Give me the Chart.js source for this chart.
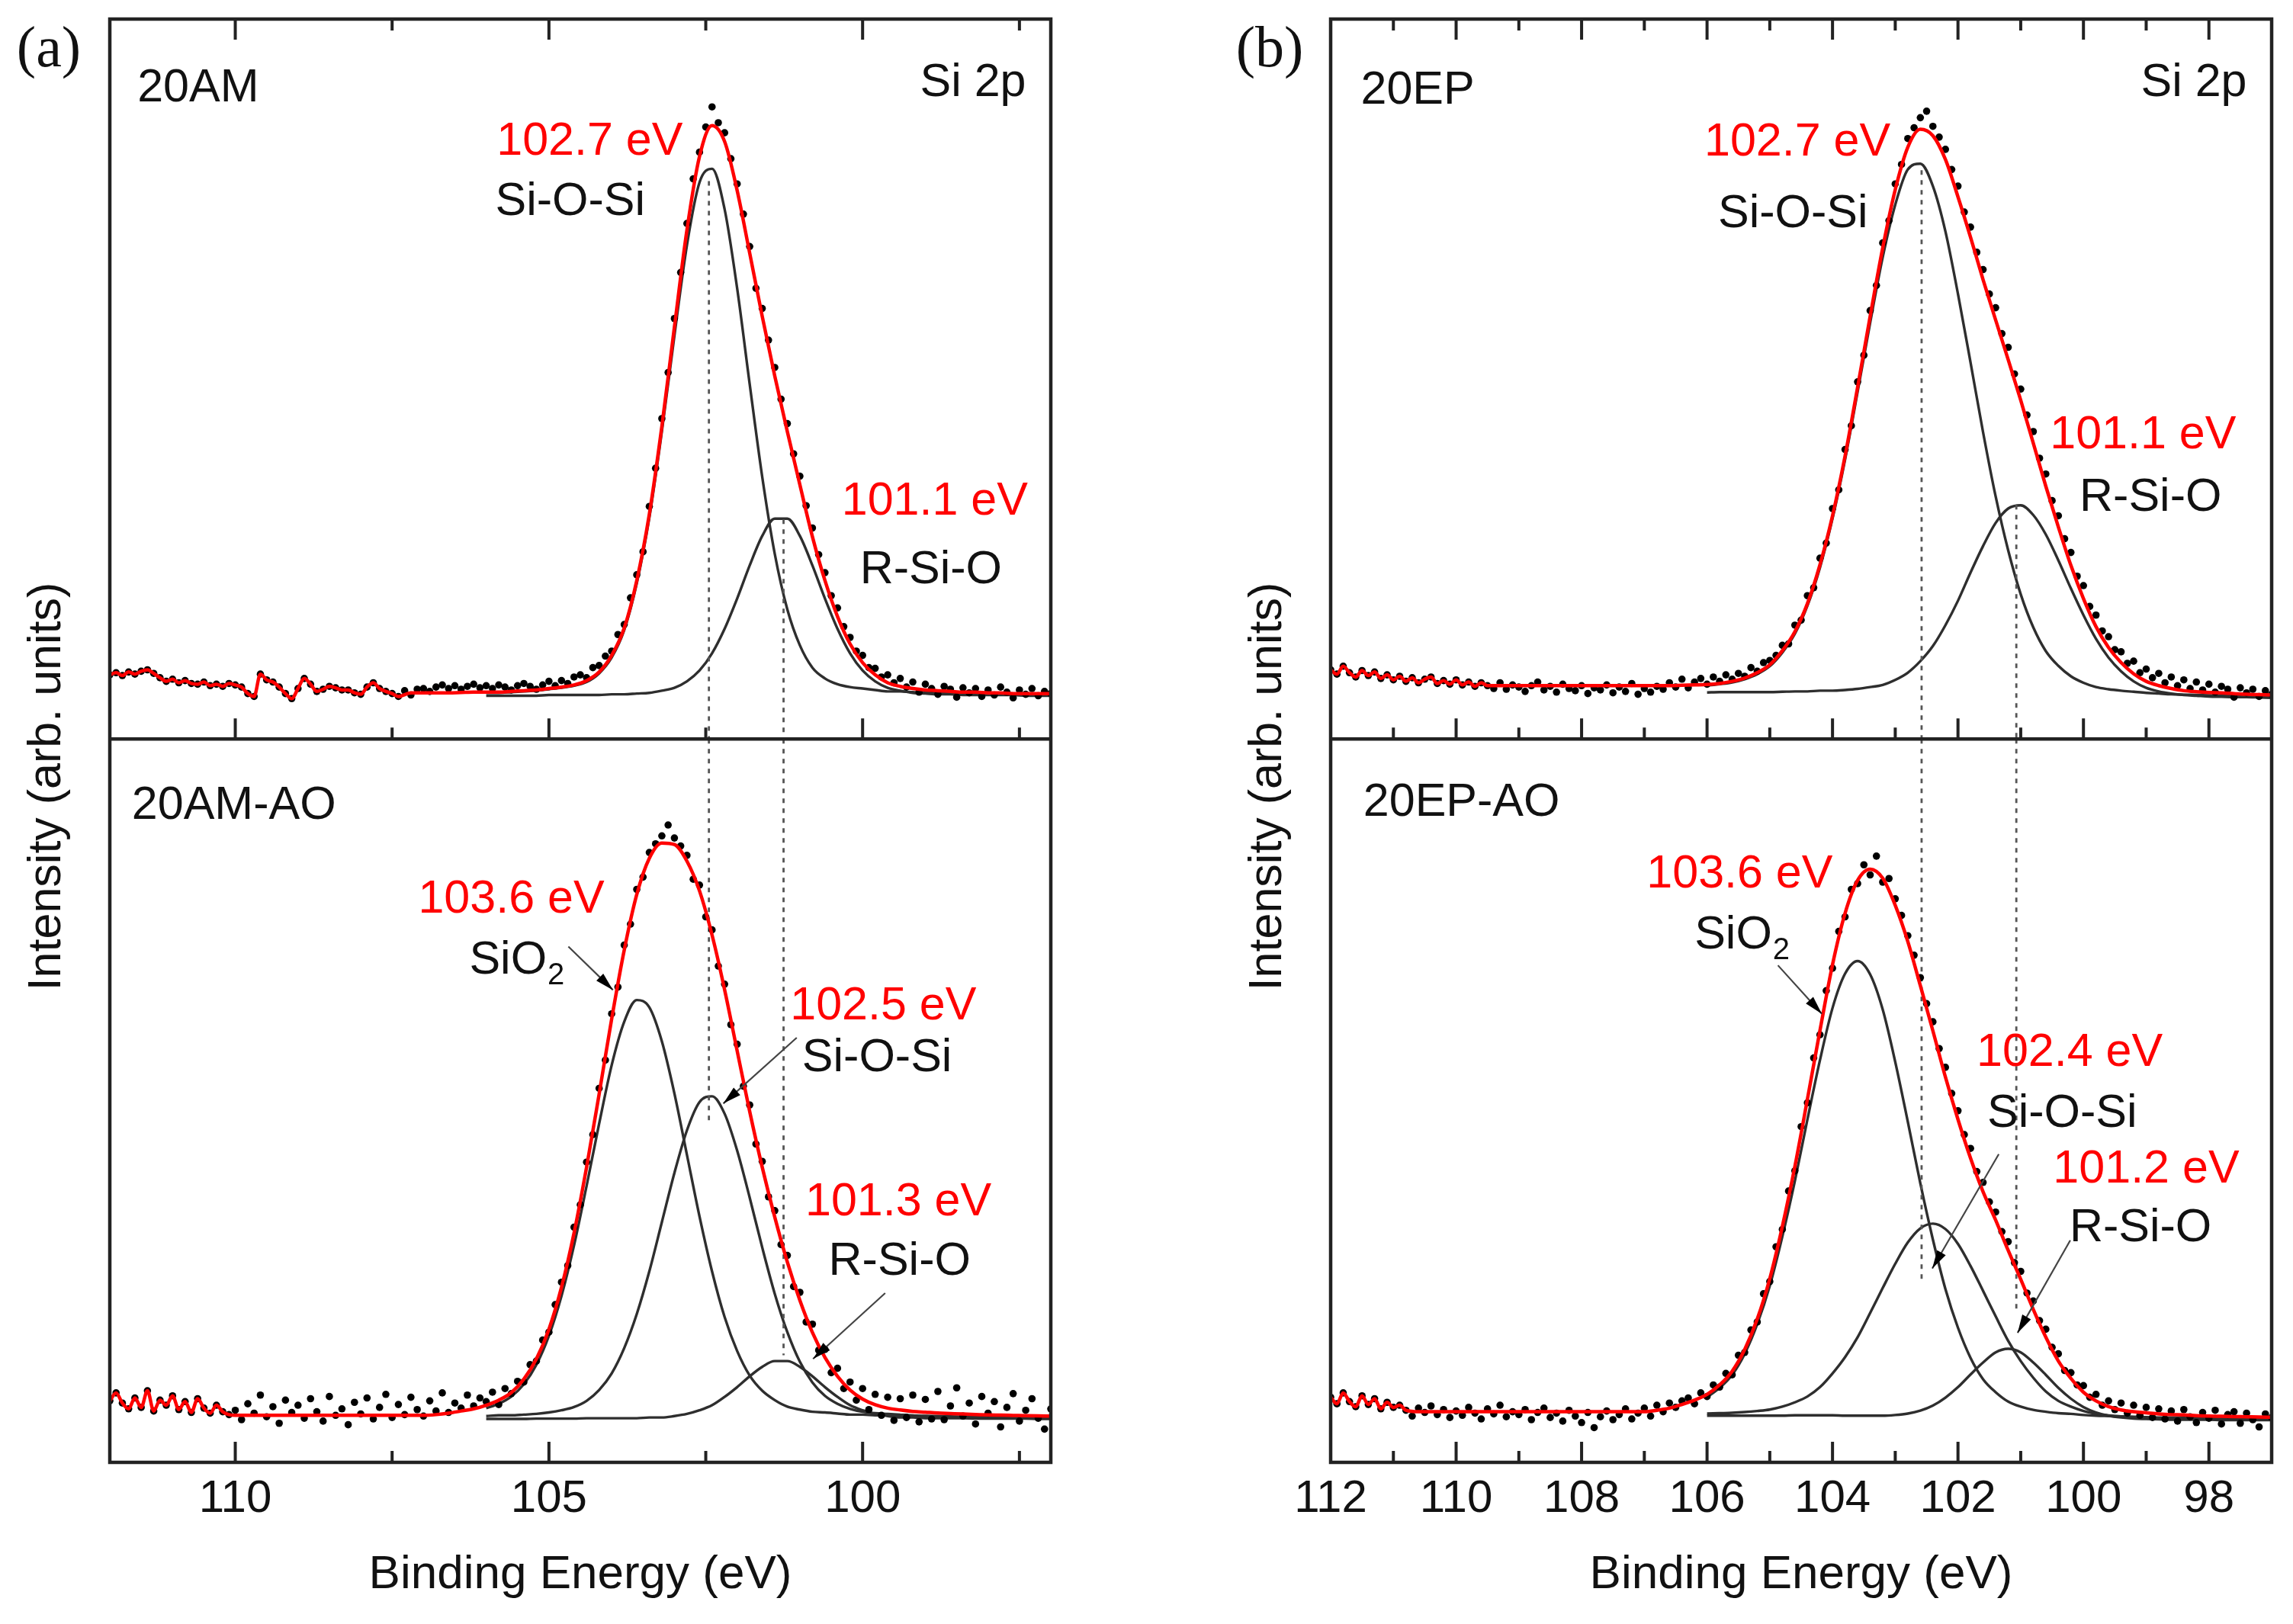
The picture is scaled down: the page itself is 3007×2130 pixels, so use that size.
<!DOCTYPE html>
<html>
<head>
<meta charset="utf-8">
<script src="https://cdn.jsdelivr.net/npm/chart.js@4.4.1/dist/chart.umd.min.js"></script>
<style>
  html, body { margin: 0; padding: 0; background: #fff; }
  #wrap { position: relative; width: 3007px; height: 2130px; background: #fff; }
  canvas { position: absolute; top: 0; }
  #cA { left: 0; }
  #cB { left: 1500px; }
</style>
</head>
<body>
<div id="wrap">
  <canvas id="cA" width="1500" height="2130"></canvas>
  <canvas id="cB" width="1507" height="2130"></canvas>
</div>
<script>
const FONT = '"Liberation Sans", Arial, Helvetica, sans-serif';
const INK = '#111';
const RED = '#ff0000';

// energy channels (eV): dots every 0.1 eV, fit every 0.2 eV from 111, components every 0.2 eV from 106
function grid(start, step, n) {
  const a = [];
  for (let i = 0; i < n; i++) a.push(Math.round((start - i * step) * 10) / 10);
  return a;
}
const DOT_E = grid(112, 0.1, 151);
const FIT_E = grid(111, 0.2, 71);
const COMP_E = grid(106, 0.2, 46);

// ---- (a) top: 20AM ----
const DOTS_20AM = [
  8.9, 9.2, 8.8, 9.3, 9.0, 9.4, 9.6, 9.1, 8.5, 8.0,      // 112.0
  8.3, 7.8, 8.1, 7.7, 7.6, 7.9, 7.4, 7.6, 7.3, 7.7,      // 111.0
  7.5, 7.2, 6.3, 5.9, 9.0, 8.2, 7.9, 7.2, 6.3, 5.6,      // 110.0
  7.0, 8.4, 7.6, 6.6, 6.9, 7.3, 7.1, 6.8, 6.8, 6.4,      // 109.0
  6.2, 7.2, 7.8, 7.0, 6.6, 6.3, 5.9, 6.7, 6.1, 6.9,      // 108.0
  7.0, 6.6, 7.2, 7.5, 7.0, 7.4, 6.9, 7.3, 7.6, 7.1,      // 107.0
  7.4, 7.0, 7.5, 7.2, 6.8, 7.4, 7.7, 7.3, 6.9, 7.5,      // 106.0
  8.0, 7.4, 8.1, 7.7, 8.6, 8.9, 8.5, 9.9, 10.2, 11.5,    // 105.0
  12.2, 14.5, 15.9, 19.6, 22.8, 26.0, 32.3, 37.6, 44.5, 50.9, // 104.0
  58.4, 64.8, 71.6, 77.8, 81.5, 85.0, 87.8, 85.6, 84.2, 80.6, // 103.0
  77.1, 72.9, 68.4, 62.6, 59.8, 55.4, 51.6, 47.2, 43.8, 39.6, // 102.0
  36.5, 32.4, 29.3, 25.6, 23.1, 19.9, 18.2, 15.6, 14.1, 12.2, // 101.0
  11.6, 9.9, 9.8, 8.6, 8.9, 7.8, 8.4, 7.2, 7.9, 6.5,     // 100.0
  7.6, 7.0, 6.2, 7.3, 6.9, 5.8, 7.1, 6.4, 7.0, 5.9,      // 99.0
  6.8, 6.1, 7.2, 6.5, 5.7, 6.8, 6.2, 7.0, 6.0, 6.6,      // 98.0
  6.3                                                    // 97.0
];
const FIT_20AM = [
  6.4, 6.4, 6.4, 6.4, 6.4,   6.4, 6.4, 6.4, 6.4, 6.4,
  6.4, 6.4, 6.4, 6.4, 6.4,   6.4, 6.4, 6.4, 6.4, 6.4,
  6.4, 6.4, 6.4, 6.45, 6.5,
  6.5, 6.5, 6.6, 6.7, 6.8,   7.0, 7.2, 7.5, 8.1, 9.3,
  11.6, 15.4, 22.0, 31.2, 43.4,   57.2, 70.7, 80.9, 85.2, 83.0,
  76.2, 67.5, 58.7, 50.4, 42.7,   35.3, 28.1, 22.0, 17.0, 13.2,
  10.6, 8.9, 7.8, 7.3, 7.0,   6.8, 6.7, 6.6, 6.5, 6.5,
  6.4, 6.4, 6.3, 6.3, 6.3,   6.3
];
const SIOSI_20AM = [
  6.4, 6.4, 6.5, 6.6, 6.7,   6.9, 7.1, 7.4, 7.9, 9.1,
  11.3, 15.1, 21.6, 30.7, 42.7,   56.0, 68.6, 77.3, 79.2, 73.6,
  62.6, 49.3, 36.4, 25.7, 18.0,   13.0, 9.9, 8.4, 7.6, 7.2,
  7.0, 6.8, 6.6, 6.6, 6.5,   6.4, 6.4, 6.3, 6.3, 6.3,
  6.2, 6.2, 6.2, 6.2, 6.2,   6.1
];
const RSIO_20AM = [
  6.0, 6.0, 6.0, 6.0, 6.0,   6.1, 6.1, 6.1, 6.1, 6.1,
  6.2, 6.2, 6.3, 6.4, 6.7,   7.1, 8.0, 9.5, 11.9, 15.3,
  19.5, 24.1, 28.2, 30.6, 30.6,   28.2, 24.1, 19.5, 15.3, 11.9,
  9.5, 8.0, 7.1, 6.7, 6.4,   6.3, 6.2, 6.2, 6.1, 6.1,
  6.1, 6.1, 6.1, 6.0, 6.0,   6.0
];

// ---- (a) bottom: 20AM-AO ----
const DOTS_20AM_AO = [
  8.5, 9.6, 8.2, 7.4, 8.9, 7.6, 9.9, 7.1, 8.6, 7.9,
  9.2, 7.3, 8.4, 6.9, 8.8, 7.5, 6.8, 7.9, 7.0, 6.6,
  7.2, 5.9, 8.1, 6.8, 9.3, 6.3, 7.7, 5.4, 8.6, 6.9,
  7.9, 6.1, 8.8, 7.0, 5.7, 9.1, 6.5, 7.4, 5.2, 8.3,
  6.7, 8.9, 6.0, 7.6, 9.4, 6.2, 8.0, 6.6, 9.0, 7.3,
  6.4, 8.5, 7.1, 9.6, 6.9, 8.2, 7.5, 9.3, 7.8, 8.9,
  8.4, 9.7, 8.0, 10.2, 9.5, 11.2, 11.1, 13.5, 14.0, 16.9,
  18.0, 21.8, 24.9, 27.2, 32.5, 35.6, 41.5, 45.3, 51.7, 55.6,
  62.0, 65.7, 71.5, 74.4, 79.2, 80.9, 84.3, 85.5, 86.6, 88.1,
  86.3, 85.2, 83.9, 80.6, 79.8, 75.4, 73.6, 68.6, 66.1, 60.5,
  57.8, 52.0, 49.4, 44.0, 41.6, 36.7, 34.8, 30.1, 28.6, 24.3,
  23.5, 19.4, 19.1, 15.5, 15.6, 12.4, 13.0, 10.2, 11.1, 8.6,
  10.2, 7.3, 9.4, 6.5, 9.0, 5.8, 8.8, 6.2, 9.3, 5.6,
  8.7, 6.0, 9.8, 5.9, 7.8, 10.3, 6.4, 8.2, 5.3, 9.1,
  6.8, 8.4, 4.9, 7.6, 9.5, 5.7, 7.2, 8.8, 6.1, 4.6,
  7.4
];
const FIT_20AM_AO = [
  6.5, 6.5, 6.5, 6.5, 6.5,   6.5, 6.5, 6.5, 6.5, 6.5,
  6.5, 6.5, 6.5, 6.5, 6.5,   6.5, 6.5, 6.5, 6.5, 6.5,
  6.5, 6.6, 6.8, 7.1, 7.4,
  7.9, 8.6, 9.65, 11.5, 14.3,   18.4, 24.2, 31.7, 40.8, 50.9,
  61.3, 70.8, 78.5, 83.5, 85.6,   85.4, 83.1, 79.0, 72.9, 65.35,
  56.9, 48.5, 40.8, 33.9, 27.7,   22.4, 17.95, 14.5, 11.9, 10.0,
  8.75, 7.97, 7.5, 7.24, 7.04,   6.93, 6.82, 6.75, 6.68, 6.62,
  6.56, 6.53, 6.49, 6.45, 6.42,   6.4
];
const SIO2_20AM_AO = [
  7.5, 8.1, 9.1, 10.8, 13.5,   17.5, 23.0, 30.0, 38.2, 46.8,
  54.9, 60.9, 63.9, 62.9, 58.2,   51.0, 42.5, 34.0, 26.4, 20.1,
  15.4, 12.0, 9.9, 8.6, 7.7,   7.3, 7.0, 6.9, 6.75, 6.6,
  6.6, 6.5, 6.5, 6.4, 6.4,   6.4, 6.3, 6.3, 6.3, 6.3,
  6.2, 6.2, 6.2, 6.2, 6.2,   6.2
];
const SIOSI_20AM_AO = [
  6.4, 6.5, 6.5, 6.6, 6.7,   6.9, 7.2, 7.65, 8.5, 10.0,
  12.3, 15.8, 20.5, 26.4, 33.2,   40.0, 45.9, 49.8, 50.6, 48.2,
  43.1, 36.6, 29.7, 23.3, 18.0,   13.9, 11.05, 9.2, 8.1, 7.4,
  7.0, 6.8, 6.7, 6.6, 6.5,   6.4, 6.4, 6.35, 6.3, 6.3,
  6.3, 6.25, 6.2, 6.2, 6.2,   6.2
];
const RSIO_20AM_AO = [
  6.0, 6.0, 6.0, 6.0, 6.05,   6.05, 6.05, 6.05, 6.1, 6.1,
  6.1, 6.1, 6.1, 6.2, 6.2,   6.4, 6.7, 7.2, 7.9, 9.05,
  10.4, 11.9, 13.2, 14.0, 14.0,   13.2, 11.9, 10.4, 9.05, 7.9,
  7.2, 6.7, 6.4, 6.2, 6.2,   6.1, 6.1, 6.1, 6.1, 6.05,
  6.05, 6.05, 6.05, 6.05, 6.0,   6.0
];

// ---- (b) top: 20EP ----
const DOTS_20EP = [
  9.6, 9.0, 10.1, 9.2, 8.6, 9.5, 8.8, 9.3, 8.4, 8.9,
  8.2, 8.7, 8.0, 8.5, 7.8, 8.3, 8.6, 7.7, 8.1, 7.6,
  8.2, 7.5, 7.9, 7.3, 7.8, 7.4, 7.0, 7.8, 6.9, 7.5,
  7.2, 6.6, 7.4, 7.9, 6.8, 7.3, 6.5, 7.6, 7.0, 6.7,
  7.4, 6.3, 7.1, 6.8, 7.5, 6.4, 7.2, 6.6, 7.7, 6.2,
  7.0, 6.5, 7.3, 6.9, 7.8, 7.2, 8.3, 7.1, 7.9, 8.4,
  7.6, 8.6, 8.0, 8.9, 8.3, 9.1, 8.7, 9.9, 9.4, 10.6,
  10.9, 11.6, 13.0, 13.2, 15.8, 16.5, 19.9, 21.0, 25.1, 27.2,
  32.0, 34.6, 40.2, 43.5, 49.6, 53.3, 59.5, 63.0, 68.9, 72.0,
  77.1, 79.8, 83.4, 84.9, 86.3, 87.2, 85.1, 83.6, 81.9, 79.1,
  76.8, 73.2, 71.1, 67.6, 65.2, 61.8, 59.9, 56.3, 54.4, 50.7,
  48.6, 45.0, 42.7, 39.0, 36.8, 33.1, 31.0, 27.8, 25.9, 22.6,
  21.3, 18.4, 17.2, 15.0, 14.2, 12.4, 12.1, 10.5, 10.8, 9.2,
  9.7, 8.5, 9.1, 7.8, 8.6, 7.4, 8.2, 7.0, 7.9, 6.8,
  7.6, 6.5, 7.3, 6.9, 5.8, 7.1, 6.4, 6.9, 5.9, 6.7,
  6.2
];
const FIT_20EP = [
  8.4, 8.2, 8.1, 7.9, 7.8,   7.7, 7.6, 7.5, 7.4, 7.4,
  7.4, 7.4, 7.4, 7.4, 7.4,   7.4, 7.4, 7.4, 7.4, 7.4,
  7.4, 7.4, 7.4, 7.45, 7.5,
  7.55, 7.7, 8.0, 8.45, 9.2,   10.3, 12.25, 14.9, 18.8, 24.2,
  31.0, 39.3, 48.85, 58.7, 68.2,   76.3, 82.2, 84.7, 83.8, 80.5,
  75.3, 69.7, 63.8, 58.2, 52.7,   47.05, 41.1, 35.1, 29.45, 24.1,
  19.5, 15.6, 12.7, 10.6, 9.05,   8.0, 7.4, 7.0, 6.7, 6.55,
  6.45, 6.4, 6.3, 6.2, 6.15,   6.1
];
const SIOSI_20EP = [
  7.4, 7.6, 7.85, 8.3, 9.0,   10.1, 12.0, 14.6, 18.5, 23.8,
  30.6, 38.8, 48.2, 57.8, 66.9,   74.2, 79.1, 79.9, 76.8, 70.5,
  61.8, 52.3, 42.6, 33.7, 26.2,   20.1, 15.5, 12.2, 10.15, 8.7,
  7.8, 7.2, 6.9, 6.7, 6.55,   6.4, 6.3, 6.2, 6.15, 6.1,
  6.05, 6.0, 6.0, 5.95, 5.9,   5.9
];
const RSIO_20EP = [
  6.45, 6.5, 6.5, 6.5, 6.5,   6.5, 6.55, 6.6, 6.6, 6.7,
  6.7, 6.8, 6.95, 7.2, 7.5,   8.2, 9.2, 10.8, 12.9, 15.8,
  19.2, 23.1, 26.8, 30.0, 32.0,   32.45, 31.1, 28.4, 24.8, 20.9,
  17.2, 13.9, 11.3, 9.4, 8.0,   7.1, 6.6, 6.3, 6.1, 6.0,
  5.9, 5.85, 5.8, 5.8, 5.75,   5.7
];

// ---- (b) bottom: 20EP-AO ----
const DOTS_20EP_AO = [
  9.0, 8.1, 9.6, 8.4, 7.7, 9.2, 8.0, 8.8, 7.4, 8.3,
  7.6, 7.9, 7.2, 6.4, 7.5, 6.9, 7.8, 6.6, 7.3, 6.2,
  7.1, 6.5, 7.6, 6.8, 6.0, 7.4, 6.7, 7.9, 6.3, 7.0,
  6.6, 7.3, 5.9, 6.9, 7.5, 6.2, 6.8, 5.7, 7.2, 6.4,
  5.5, 6.9, 4.8, 6.3, 7.1, 5.9, 6.6, 7.4, 6.0, 6.8,
  7.5, 6.4, 7.9, 7.0, 8.2, 7.6, 8.5, 8.9, 8.1, 9.6,
  9.1, 10.7, 10.4, 12.3, 12.1, 14.8, 15.2, 18.3, 19.4, 23.3,
  25.0, 29.8, 32.2, 37.5, 40.3, 46.4, 49.7, 55.9, 59.1, 65.2,
  68.3, 73.4, 75.4, 79.2, 80.0, 82.6, 81.2, 83.8, 80.2, 80.7,
  77.9, 75.6, 72.8, 70.1, 67.0, 63.4, 60.9, 57.2, 54.6, 51.0,
  48.6, 45.3, 43.4, 40.2, 38.7, 36.0, 34.6, 31.9, 30.5, 27.6,
  26.4, 23.4, 22.3, 19.6, 18.4, 15.9, 15.0, 12.7, 12.4, 10.7,
  10.6, 9.0, 9.4, 7.9, 8.5, 7.3, 8.2, 6.8, 7.9, 6.5,
  7.6, 6.2, 7.4, 6.0, 7.1, 5.7, 7.3, 6.3, 5.5, 6.9,
  6.1, 7.2, 5.3, 6.6, 7.0, 5.4, 6.8, 5.9, 4.9, 6.7,
  6.2
];
const FIT_20EP_AO = [
  7.2, 7.1, 7.0, 7.0, 7.0,   7.0, 7.0, 7.0, 7.0, 7.0,
  7.0, 7.0, 7.0, 7.0, 7.0,   7.0, 7.0, 7.0, 7.0, 7.0,
  7.0, 7.2, 7.5, 8.0, 8.6,
  9.4, 10.7, 12.6, 15.6, 19.8,   25.4, 32.6, 40.9, 50.2, 59.7,
  68.8, 75.9, 80.45, 82.0, 80.75,   77.0, 72.0, 65.9, 59.65, 53.25,
  47.4, 42.05, 37.4, 33.5, 29.3,   25.3, 21.15, 17.3, 14.0, 11.6,
  9.7, 8.5, 7.7, 7.25, 7.0,   6.85, 6.7, 6.6, 6.55, 6.45,
  6.4, 6.37, 6.33, 6.3, 6.27,   6.25
];
const SIO2_20EP_AO = [
  9.0, 10.3, 12.1, 15.0, 19.1,   24.4, 31.2, 38.9, 47.4, 55.6,
  62.8, 67.55, 69.3, 67.45, 62.6,   55.35, 47.1, 38.55, 30.8, 23.95,
  18.6, 14.45, 11.5, 9.7, 8.4,   7.7, 7.25, 7.0, 6.8, 6.7,
  6.55, 6.45, 6.4, 6.35, 6.3,   6.25, 6.2, 6.2, 6.2, 6.15,
  6.1, 6.1, 6.1, 6.05, 6.05,   6.05
];
const SIOSI_20EP_AO = [
  6.75, 6.8, 6.85, 6.95, 7.1,   7.3, 7.7, 8.3, 9.1, 10.4,
  12.3, 14.55, 17.3, 20.65, 24.1,   27.45, 30.4, 32.35, 33.0, 32.25,
  30.2, 27.15, 23.7, 20.2, 16.8,   14.0, 11.7, 9.8, 8.5, 7.7,
  7.1, 6.7, 6.5, 6.35, 6.25,   6.2, 6.15, 6.1, 6.05, 6.05,
  6.0, 6.0, 6.0, 6.0, 5.95,   5.95
];
const RSIO_20EP_AO = [
  6.45, 6.45, 6.45, 6.45, 6.45,   6.45, 6.45, 6.5, 6.5, 6.5,
  6.5, 6.45, 6.45, 6.45, 6.45,   6.55, 6.75, 7.15, 7.85, 8.95,
  10.4, 12.15, 13.8, 15.2, 15.7,   15.2, 13.8, 12.1, 10.3, 8.8,
  7.65, 6.9, 6.45, 6.2, 6.05,   6.0, 5.95, 5.9, 5.9, 5.9,
  5.9, 5.85, 5.85, 5.85, 5.85,   5.85
];

// peak guide lines: energy, start in top panel, end in bottom panel
const GUIDE_A_E = [102.45, 101.26];
const GUIDE_A_TOP = [77.5, 30.5];
const GUIDE_A_BOT = [46.6, 14.8];
const GUIDE_B_E = [102.58, 101.07];
const GUIDE_B_TOP = [79.0, 32.5];
const GUIDE_B_BOT = [25.2, 21.2];

const TICKS_A_MAJOR = [110, 105, 100];
const TICKS_A_MINOR = [107.5, 102.5, 97.5];
const TICKS_B_MAJOR = [112, 110, 108, 106, 104, 102, 100, 98];
const TICKS_B_MINOR = [111, 109, 107, 105, 103, 101, 99];

const LABELS_A = [
  { t: '20AM', e: 111.56, v: 90.3, ax: 'yTop', align: 'left' },
  { t: 'Si 2p', e: 98.24, v: 91.1, ax: 'yTop' },
  { t: '102.7 eV', e: 104.35, v: 82.9, ax: 'yTop', red: true },
  { t: 'Si-O-Si', e: 104.66, v: 74.6, ax: 'yTop' },
  { t: '101.1 eV', e: 98.85, v: 32.9, ax: 'yTop', red: true },
  { t: 'R-Si-O', e: 98.91, v: 23.4, ax: 'yTop' },
  { t: '20AM-AO', e: 111.65, v: 90.7, ax: 'yBot', align: 'left' },
  { t: '103.6 eV', e: 105.6, v: 77.8, ax: 'yBot', red: true },
  { t: 'SiO', sub: '2', e: 106.27, v: 69.3, ax: 'yBot', align: 'left' },
  { t: '102.5 eV', e: 99.67, v: 63.0, ax: 'yBot', red: true },
  { t: 'Si-O-Si', e: 99.77, v: 55.8, ax: 'yBot' },
  { t: '101.3 eV', e: 99.43, v: 35.9, ax: 'yBot', red: true },
  { t: 'R-Si-O', e: 99.41, v: 27.7, ax: 'yBot' }
];
const LABELS_B = [
  { t: '20EP', e: 111.52, v: 90.0, ax: 'yTop', align: 'left' },
  { t: 'Si 2p', e: 98.24, v: 91.1, ax: 'yTop' },
  { t: '102.7 eV', e: 104.56, v: 82.8, ax: 'yTop', red: true },
  { t: 'Si-O-Si', e: 104.63, v: 72.9, ax: 'yTop' },
  { t: '101.1 eV', e: 99.05, v: 42.2, ax: 'yTop', red: true },
  { t: 'R-Si-O', e: 98.93, v: 33.5, ax: 'yTop' },
  { t: '20EP-AO', e: 111.48, v: 91.1, ax: 'yBot', align: 'left' },
  { t: '103.6 eV', e: 105.48, v: 81.2, ax: 'yBot', red: true },
  { t: 'SiO', sub: '2', e: 106.2, v: 72.8, ax: 'yBot', align: 'left' },
  { t: '102.4 eV', e: 100.22, v: 56.6, ax: 'yBot', red: true },
  { t: 'Si-O-Si', e: 100.34, v: 48.1, ax: 'yBot' },
  { t: '101.2 eV', e: 99.0, v: 40.5, ax: 'yBot', red: true },
  { t: 'R-Si-O', e: 99.09, v: 32.3, ax: 'yBot' }
];
// arrows in the bottom panels: [E, v] from label to curve
const ARROWS_A = [
  [[104.69, 71.3], [103.98, 65.3]],
  [[101.05, 58.7], [102.22, 49.6]],
  [[99.64, 23.4], [100.79, 14.3]]
];
const ARROWS_B = [
  [[104.87, 68.7], [104.17, 62.0]],
  [[101.35, 42.6], [102.41, 26.8]],
  [[100.21, 30.7], [101.05, 17.9]]
];

function pts(xs, ys) { return ys.map((y, i) => ({ x: xs[i], y })); }

function spectrumSets(axis, dots, fit, cut, comps) {
  const red = [];
  DOT_E.forEach((e, i) => { if (e >= cut - 1e-6) red.push({ x: e, y: dots[i] }); });
  FIT_E.forEach((e, i) => { if (e < cut - 1e-6) red.push({ x: e, y: fit[i] }); });
  const sets = [
    { data: red, yAxisID: axis, showLine: true, borderColor: RED, borderWidth: 4.5,
      pointRadius: 0, cubicInterpolationMode: 'monotone', order: 0 },
    { data: pts(DOT_E, dots), yAxisID: axis, showLine: false, pointRadius: 4.8,
      pointBackgroundColor: '#000', pointBorderWidth: 0, order: 1 }
  ];
  comps.forEach(c => sets.push({
    data: pts(COMP_E, c), yAxisID: axis, showLine: true, borderColor: '#2e2e2e',
    borderWidth: 3.4, pointRadius: 0, cubicInterpolationMode: 'monotone', order: 3
  }));
  return sets;
}

function guideSets(es, tops, bots) {
  const style = { showLine: true, borderColor: '#555', borderWidth: 2.8, borderDash: [6, 7],
                  pointRadius: 0, order: 2 };
  const out = [];
  es.forEach((e, i) => {
    out.push(Object.assign({ data: [{ x: e, y: tops[i] }, { x: e, y: 0 }], yAxisID: 'yTop' }, style));
    out.push(Object.assign({ data: [{ x: e, y: 100 }, { x: e, y: bots[i] }], yAxisID: 'yBot' }, style));
  });
  return out;
}

function framePlugin(P) {
  return {
    id: 'frame' + P.letter,
    afterDraw(chart) {
      const ctx = chart.ctx, ca = chart.chartArea, xs = chart.scales.x;
      const ys = { yTop: chart.scales.yTop, yBot: chart.scales.yBot };
      const yDiv = ys.yTop.getPixelForValue(0);
      ctx.save();
      // frame + divider
      ctx.strokeStyle = '#222';
      ctx.lineWidth = 4.5;
      ctx.strokeRect(ca.left, ca.top, ca.right - ca.left, ca.bottom - ca.top);
      ctx.beginPath(); ctx.moveTo(ca.left, yDiv); ctx.lineTo(ca.right, yDiv); ctx.stroke();
      // inward ticks
      ctx.lineWidth = 4;
      const tick = (v, len) => {
        const x = xs.getPixelForValue(v);
        ctx.beginPath();
        ctx.moveTo(x, ca.top); ctx.lineTo(x, ca.top + len);
        ctx.moveTo(x, yDiv); ctx.lineTo(x, yDiv - len);
        ctx.moveTo(x, ca.bottom); ctx.lineTo(x, ca.bottom - len);
        ctx.stroke();
      };
      P.major.forEach(v => tick(v, 27));
      P.minor.forEach(v => tick(v, 15));
      // arrows
      P.arrows.forEach(a => {
        const x1 = xs.getPixelForValue(a[0][0]), y1 = ys.yBot.getPixelForValue(a[0][1]);
        const x2 = xs.getPixelForValue(a[1][0]), y2 = ys.yBot.getPixelForValue(a[1][1]);
        ctx.strokeStyle = '#444'; ctx.lineWidth = 2.2;
        ctx.beginPath(); ctx.moveTo(x1, y1); ctx.lineTo(x2, y2); ctx.stroke();
        const ang = Math.atan2(y2 - y1, x2 - x1), L = 24, W = 6.5;
        ctx.fillStyle = '#000';
        ctx.beginPath();
        ctx.moveTo(x2, y2);
        ctx.lineTo(x2 - L * Math.cos(ang) + W * Math.sin(ang), y2 - L * Math.sin(ang) - W * Math.cos(ang));
        ctx.lineTo(x2 - L * Math.cos(ang) - W * Math.sin(ang), y2 - L * Math.sin(ang) + W * Math.cos(ang));
        ctx.closePath(); ctx.fill();
      });
      // text labels
      ctx.textBaseline = 'middle';
      P.labels.forEach(l => {
        const x = xs.getPixelForValue(l.e), y = ys[l.ax].getPixelForValue(l.v);
        ctx.font = '61px ' + FONT;
        ctx.fillStyle = l.red ? RED : INK;
        ctx.textAlign = l.align || 'center';
        ctx.fillText(l.t, x, y);
        if (l.sub) {
          const w = ctx.measureText(l.t).width;
          ctx.font = '40px ' + FONT;
          ctx.textAlign = 'left';
          ctx.fillText(l.sub, x + w + 1, y + 20);
        }
      });
      // y title
      ctx.save();
      ctx.translate(ca.left - 82, (ca.top + ca.bottom) / 2 + 60);
      ctx.rotate(-Math.PI / 2);
      ctx.font = '61px ' + FONT;
      ctx.fillStyle = INK;
      ctx.textAlign = 'center';
      ctx.fillText('Intensity (arb. units)', 0, 0);
      ctx.restore();
      // panel letter
      ctx.font = '76px "Liberation Serif", "Times New Roman", serif';
      ctx.fillStyle = INK;
      ctx.textAlign = 'center';
      ctx.fillText(P.letter, ca.left - 80, ca.top + 42);
      ctx.restore();
    }
  };
}

function buildPanel(P) {
  new Chart(document.getElementById(P.canvas), {
    type: 'scatter',
    data: { datasets: P.datasets },
    options: {
      responsive: false,
      animation: false,
      devicePixelRatio: 1,
      layout: { padding: { left: P.padLeft, right: P.padRight, top: 25, bottom: 0 } },
      plugins: { legend: { display: false }, tooltip: { enabled: false } },
      scales: {
        x: {
          type: 'linear', min: 97, max: 112, reverse: true, position: 'bottom',
          grid: { display: false, drawTicks: false },
          border: { display: false },
          ticks: { font: { family: FONT, size: 60 }, color: INK, padding: 12,
                   maxRotation: 0, minRotation: 0, autoSkip: false },
          afterBuildTicks: s => { s.ticks = P.major.map(v => ({ value: v })); },
          afterFit: s => { s.height = 212; },
          title: { display: true, text: 'Binding Energy (eV)', color: INK,
                   font: { family: FONT, size: 62 }, padding: { top: 0, bottom: 27 } }
        },
        yTop: { type: 'linear', display: false, min: -100.5, max: 100 },
        yBot: { type: 'linear', display: false, min: 0, max: 199.5 }
      }
    },
    plugins: [framePlugin(P)]
  });
}

buildPanel({
  canvas: 'cA', letter: '(a)', padLeft: 144, padRight: 122,
  major: TICKS_A_MAJOR, minor: TICKS_A_MINOR, labels: LABELS_A, arrows: ARROWS_A,
  datasets: [].concat(
    spectrumSets('yTop', DOTS_20AM, FIT_20AM, 107.4, [SIOSI_20AM, RSIO_20AM]),
    spectrumSets('yBot', DOTS_20AM_AO, FIT_20AM_AO, 110.1, [SIO2_20AM_AO, SIOSI_20AM_AO, RSIO_20AM_AO]),
    guideSets(GUIDE_A_E, GUIDE_A_TOP, GUIDE_A_BOT)
  )
});
buildPanel({
  canvas: 'cB', letter: '(b)', padLeft: 245, padRight: 28,
  major: TICKS_B_MAJOR, minor: TICKS_B_MINOR, labels: LABELS_B, arrows: ARROWS_B,
  datasets: [].concat(
    spectrumSets('yTop', DOTS_20EP, FIT_20EP, 109.5, [SIOSI_20EP, RSIO_20EP]),
    spectrumSets('yBot', DOTS_20EP_AO, FIT_20EP_AO, 110.8, [SIO2_20EP_AO, SIOSI_20EP_AO, RSIO_20EP_AO]),
    guideSets(GUIDE_B_E, GUIDE_B_TOP, GUIDE_B_BOT)
  )
});
</script>
</body>
</html>
